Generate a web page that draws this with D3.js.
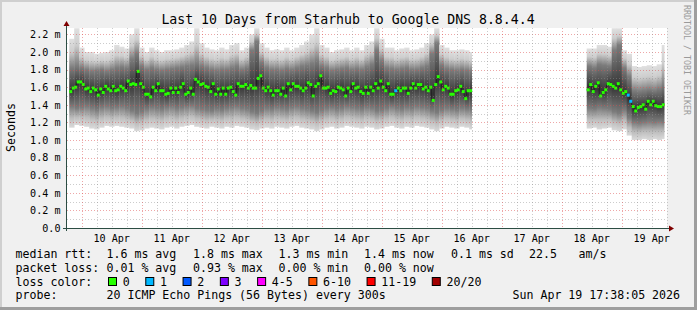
<!DOCTYPE html>
<html>
<head>
<meta charset="utf-8">
<script src="https://cdn.jsdelivr.net/npm/d3@7"></script>
<style>
html, body { margin: 0; padding: 0; background: #f0f0f0; }
svg { display: block; }
text { font-family: 'DejaVu Sans Mono', monospace; fill: #000; white-space: pre; }
</style>
</head>
<body>
<div id="chart"></div>
<script>
var HOUR = 3600000;

// hourly medians (ms), first block of data
var seg1Start = Date.UTC(2026, 3, 9, 19);
var median1 = [
  1.55,1.59,1.60,1.66,1.66,1.63,1.58,1.59,1.55,1.59,
  1.57,1.51,1.58,1.54,1.61,1.58,1.56,1.61,1.56,1.57,
  1.61,1.59,1.56,1.67,1.63,1.64,1.63,1.78,1.64,1.60,
  1.52,1.52,1.49,1.60,1.56,1.64,1.56,1.56,1.52,1.53,
  1.59,1.54,1.59,1.54,1.60,1.64,1.52,1.54,1.59,1.52,
  1.69,1.66,1.63,1.64,1.61,1.60,1.55,1.64,1.52,1.58,
  1.52,1.59,1.52,1.59,1.60,1.55,1.51,1.64,1.61,1.61,
  1.63,1.59,1.62,1.59,1.59,1.70,1.73,1.59,1.56,1.60,
  1.56,1.51,
  1.56,1.56,1.52,1.59,1.50,1.64,1.57,1.64,1.61,1.61,
  1.59,1.56,1.59,1.65,1.63,1.50,1.61,1.64,1.73,1.59,
  1.59,1.60,1.53,1.56,1.55,1.60,1.59,1.57,1.50,1.59,
  1.55,1.64,1.59,1.60,1.55,1.53,1.60,1.53,1.60,1.56,
  1.64,1.59,1.67,1.60,1.56,1.64,1.52,1.52,1.56,1.59,
  1.56,1.59,1.59,1.53,1.59,1.64,1.59,1.63,1.63,1.58,
  1.60,1.56,1.60,1.45,1.63,1.72,1.66,1.57,1.61,1.59,
  1.52,1.52,1.56,1.57,1.61,1.55,1.47,1.56,1.56
];
// [index, pings lost]
var loss1 = [[130, 1]];

// smoke envelope per 2 hours (ms)
var hi1 = [
  2.15,2.27,2.05,2.00,2.00,1.98,1.99,2.00,2.02,2.08,
  2.06,2.04,2.20,2.27,2.05,2.00,2.05,2.02,2.00,2.02,
  2.02,2.03,2.05,2.08,2.12,2.27,2.10,2.05,2.03,2.02,
  2.05,2.03,2.08,2.10,2.02,2.05,2.20,2.27,2.10,2.05,
  2.02,2.03,2.02,2.05,2.02,2.05,2.08,2.12,2.20,2.27,
  2.08,2.05,2.00,2.02,2.03,2.05,2.02,2.05,2.02,2.08,
  2.12,2.27,2.15,2.05,2.05,2.02,2.04,2.05,2.02,2.03,
  2.05,2.10,2.20,2.27,2.08,2.05,2.02,2.02,2.03,2.02,
  2.00
];
var q3_1 = [
  1.82,1.84,1.82,1.80,1.78,1.79,1.80,1.78,1.80,1.82,
  1.83,1.82,1.92,1.98,1.84,1.80,1.82,1.80,1.79,1.80,
  1.81,1.82,1.83,1.84,1.85,1.87,1.84,1.82,1.80,1.79,
  1.80,1.80,1.82,1.84,1.80,1.82,2.02,2.12,1.88,1.82,
  1.80,1.80,1.79,1.81,1.80,1.82,1.84,1.85,1.87,1.90,
  1.84,1.82,1.79,1.80,1.81,1.82,1.80,1.81,1.80,1.83,
  1.86,2.02,1.90,1.82,1.81,1.80,1.81,1.82,1.80,1.80,
  1.82,1.84,1.98,2.10,1.85,1.81,1.80,1.79,1.80,1.79,
  1.78
];
var q1_1 = [
  1.38,1.36,1.37,1.38,1.36,1.34,1.37,1.38,1.36,1.37,
  1.38,1.36,1.33,1.30,1.32,1.35,1.37,1.36,1.35,1.37,
  1.38,1.36,1.37,1.38,1.39,1.36,1.35,1.34,1.33,1.35,
  1.34,1.36,1.37,1.38,1.36,1.35,1.32,1.30,1.33,1.36,
  1.35,1.37,1.36,1.35,1.37,1.38,1.36,1.35,1.33,1.31,
  1.34,1.36,1.37,1.35,1.36,1.38,1.37,1.36,1.35,1.37,
  1.36,1.33,1.34,1.36,1.38,1.36,1.35,1.37,1.36,1.38,
  1.37,1.36,1.33,1.31,1.34,1.36,1.35,1.34,1.36,1.35,
  1.34
];
var lo1 = [
  1.14,1.17,1.16,1.15,1.13,1.12,1.14,1.16,1.15,1.16,
  1.15,1.14,1.13,1.10,1.11,1.13,1.14,1.13,1.12,1.14,
  1.15,1.13,1.15,1.16,1.17,1.15,1.14,1.13,1.15,1.14,
  1.13,1.15,1.14,1.16,1.15,1.14,1.12,1.11,1.13,1.14,
  1.13,1.15,1.14,1.13,1.15,1.16,1.14,1.13,1.12,1.10,
  1.12,1.14,1.15,1.13,1.14,1.16,1.15,1.14,1.13,1.15,
  1.14,1.12,1.13,1.15,1.16,1.14,1.13,1.15,1.14,1.16,
  1.15,1.14,1.12,1.10,1.13,1.15,1.14,1.13,1.15,1.14,
  1.12
];

// second block after the outage
var seg2Start = Date.UTC(2026, 3, 18, 10);
var median2 = [
  1.57,1.63,1.55,1.61,1.65,1.50,1.54,1.57,1.64,1.63,
  1.61,1.59,1.64,1.57,1.53,1.55,1.51,1.44,1.38,1.33,
  1.37,1.38,1.40,1.35,1.44,1.40,1.44,1.39,1.38,1.38,
  1.40
];
var loss2 = [[16, 1], [17, 1]];
var hi2  = [2.04,2.04,2.08,2.08,2.06,2.27,2.27,2.02,1.98,1.84,1.83,1.84,1.85,1.84,1.86,2.08];
var q3_2 = [1.84,1.82,1.86,1.85,1.84,2.02,2.08,1.82,1.72,1.56,1.55,1.56,1.57,1.56,1.58,1.62];
var q1_2 = [1.36,1.35,1.37,1.36,1.35,1.32,1.30,1.34,1.25,1.20,1.19,1.20,1.21,1.20,1.21,1.20];
var lo2  = [1.13,1.14,1.12,1.13,1.14,1.11,1.10,1.12,1.05,1.00,1.00,1.01,1.00,1.01,1.00,1.01];

var lossLabels = ['0', '1', '2', '3', '4-5', '6-10', '11-19', '20/20'];
var lossColors = ['#26ff00', '#00b8ff', '#0059ff', '#7e00ff', '#ff00ff', '#ff5500', '#ff0000', '#a10000'];

var statsRtt  = ['1.6 ms avg', '1.8 ms max', '1.3 ms min', '1.4 ms now', '0.1 ms sd', '22.5', 'am/s'];
var statsLoss = ['0.01 % avg', '0.93 % max', '0.00 % min', '0.00 % now'];

var W = 697, H = 310;
var plot = { left: 67, right: 667, top: 28, bottom: 228 };

var svg = d3.select('#chart').append('svg')
  .attr('width', W)
  .attr('height', H);

// frame like rrdtool
svg.append('rect').attr('width', W).attr('height', H).attr('fill', '#f0f0f0');
svg.append('rect').attr('x', 0).attr('y', 0).attr('width', W).attr('height', 2).attr('fill', '#cfcfcf');
svg.append('rect').attr('x', 0).attr('y', 0).attr('width', 2).attr('height', H).attr('fill', '#cfcfcf');
svg.append('rect').attr('x', 0).attr('y', H - 3).attr('width', W).attr('height', 3).attr('fill', '#9e9e9e');
svg.append('rect').attr('x', W - 3).attr('y', 0).attr('width', 3).attr('height', H).attr('fill', '#9e9e9e');

svg.append('rect')
  .attr('x', plot.left).attr('y', plot.top)
  .attr('width', plot.right - plot.left).attr('height', plot.bottom - plot.top)
  .attr('fill', '#fff');

var x = d3.scaleUtc()
  .domain([Date.UTC(2026, 3, 9, 18, 7, 12), Date.UTC(2026, 3, 19, 18, 7, 12)])
  .range([plot.left, plot.right]);
var y = d3.scaleLinear()
  .domain([0, 200 / 88])
  .range([plot.bottom, plot.top]);

svg.append('clipPath').attr('id', 'clip').append('rect')
  .attr('x', plot.left).attr('y', plot.top)
  .attr('width', plot.right - plot.left).attr('height', plot.bottom - plot.top);

function bins(start, med, hi, q3, q1, lo) {
  var end = start + med.length * HOUR;
  return hi.map(function(h, k) {
    var t0 = start + 2 * k * HOUR;
    return {
      t0: t0, t1: Math.min(t0 + 2 * HOUR, end),
      hi: h, q3: q3[k], q1: q1[k], lo: lo[k],
      med: d3.mean(med.slice(2 * k, 2 * k + 2))
    };
  });
}
function points(start, med, loss) {
  var lost = new Map(loss);
  return med.map(function(v, i) {
    return { t: start + i * HOUR, v: v, loss: lost.get(i) || 0 };
  });
}

var smoke = bins(seg1Start, median1, hi1, q3_1, q1_1, lo1)
  .concat(bins(seg2Start, median2, hi2, q3_2, q1_2, lo2));
var segs = [points(seg1Start, median1, loss1), points(seg2Start, median2, loss2)];

var defs = svg.append('defs');
var g = svg.append('g').attr('clip-path', 'url(#clip)');

smoke.forEach(function(d, i) {
  var top = y(d.hi), bot = y(d.lo), h = bot - top;
  var off = function(v) { return Math.max(0, Math.min(1, (y(v) - top) / h)); };
  var oq3 = off(d.q3), oq1 = off(d.q1);
  var grad = defs.append('linearGradient')
    .attr('id', 'sm' + i)
    .attr('gradientUnits', 'userSpaceOnUse')
    .attr('x1', 0).attr('x2', 0).attr('y1', top).attr('y2', bot);
  // light outer fringe, darker towards the median
  [[0, '#e0e0e0'], [oq3 * 0.45, '#cdcdcd'], [oq3, '#7c7c7c'], [off(d.med), '#363636'],
   [oq1, '#7c7c7c'], [oq1 + (1 - oq1) * 0.55, '#bdbdbd'], [1, '#dadada']]
    .forEach(function(s) { grad.append('stop').attr('offset', s[0]).attr('stop-color', s[1]); });
  g.append('rect')
    .attr('x', x(d.t0))
    .attr('y', top)
    .attr('width', x(d.t1) - x(d.t0) + 0.3)
    .attr('height', h)
    .attr('fill', 'url(#sm' + i + ')');
});

// dark median step line
var line = d3.line()
  .x(function(d) { return x(d.t); })
  .y(function(d) { return y(d.v); })
  .curve(d3.curveStepAfter);
segs.forEach(function(s) {
  var last = s[s.length - 1];
  g.append('path')
    .datum(s.concat([{ t: last.t + HOUR, v: last.v }]))
    .attr('d', line)
    .attr('fill', 'none')
    .attr('stroke', '#202020')
    .attr('stroke-width', 1);
});

// grid on top of the smoke
var grid = svg.append('g');
d3.range(1, 23).forEach(function(i) {
  var yy = Math.round(y(i / 10)) + 0.5;
  grid.append('line')
    .attr('x1', plot.left).attr('x2', plot.right)
    .attr('y1', yy).attr('y2', yy)
    .attr('stroke', i % 2 ? 'rgba(143,143,143,0.46)' : 'rgba(222,80,80,0.5)')
    .attr('stroke-dasharray', '1,2');
});
var hours6 = d3.utcHour.every(6).range(x.domain()[0], x.domain()[1]);
hours6.forEach(function(t) {
  var xx = Math.round(x(t)) + 0.5;
  var major = t.getUTCHours() === 0;
  grid.append('line')
    .attr('x1', xx).attr('x2', xx)
    .attr('y1', plot.top).attr('y2', plot.bottom)
    .attr('stroke', major ? 'rgba(222,80,80,0.5)' : 'rgba(143,143,143,0.46)')
    .attr('stroke-dasharray', '1,2');
});

// loss coloured median marks
segs.forEach(function(s) {
  g.selectAll(null)
    .data(s)
    .enter()
    .append('rect')
    .attr('x', function(d) { return x(d.t); })
    .attr('y', function(d) { return y(d.v) - 1.5; })
    .attr('width', function(d) { return x(d.t + HOUR) - x(d.t) + 0.5; })
    .attr('height', 3)
    .attr('fill', function(d) { return lossColors[d.loss]; });
});

// axes
var axisCol = '#2c4d43';
svg.append('line')
  .attr('x1', plot.left - 4).attr('x2', plot.right + 4)
  .attr('y1', plot.bottom + 0.5).attr('y2', plot.bottom + 0.5)
  .attr('stroke', axisCol);
svg.append('line')
  .attr('x1', plot.left - 0.5).attr('x2', plot.left - 0.5)
  .attr('y1', plot.bottom + 3).attr('y2', plot.top - 4)
  .attr('stroke', axisCol);
svg.append('path')
  .attr('d', 'M' + (plot.right + 2) + ',' + (plot.bottom - 2.5) + 'L' + (plot.right + 7) + ',' + (plot.bottom + 0.5) + 'L' + (plot.right + 2) + ',' + (plot.bottom + 3.5) + 'Z')
  .attr('fill', '#7f0000');
svg.append('path')
  .attr('d', 'M' + (plot.left - 3.5) + ',' + (plot.top - 2) + 'L' + (plot.left - 0.5) + ',' + (plot.top - 7) + 'L' + (plot.left + 2.5) + ',' + (plot.top - 2) + 'Z')
  .attr('fill', '#7f0000');

// y labels
d3.range(0, 12).forEach(function(i) {
  var v = i / 5;
  svg.append('text')
    .attr('x', 60.5)
    .attr('y', y(v) + 3.7)
    .attr('text-anchor', 'end')
    .style('font-size', '10.1px')
    .text(i === 0 ? '0.0' : v.toFixed(1) + ' m');
});

// x labels at noon
var fmt = d3.utcFormat('%d %b');
d3.utcDay.range(x.domain()[0], x.domain()[1]).forEach(function(t) {
  var noon = new Date(+t + 12 * HOUR);
  if (noon > x.domain()[1]) return;
  svg.append('text')
    .attr('x', x(noon))
    .attr('y', 241.5)
    .attr('text-anchor', 'middle')
    .style('font-size', '10.1px')
    .text(fmt(noon));
});

svg.append('text')
  .attr('x', 348).attr('y', 24)
  .attr('text-anchor', 'middle')
  .style('font-size', '13.2px')
  .text('Last 10 Days from Starhub to Google DNS 8.8.4.4');

svg.append('text')
  .attr('transform', 'translate(15,127.5) rotate(-90)')
  .attr('text-anchor', 'middle')
  .style('font-size', '11.6px')
  .text('Seconds');

svg.append('text')
  .attr('transform', 'translate(684,5) rotate(90)')
  .style('font-size', '8.3px')
  .style('fill', '#9a9a9a')
  .text('RRDTOOL / TOBI OETIKER');

// legend
var rows = [258.4, 272, 285.7, 299.3];
var cols = [106.5, 193, 278.5, 364, 451, 529, 578.5];
function legendText(xx, yy, s) {
  svg.append('text').attr('x', xx).attr('y', yy).style('font-size', '11.6px').text(s);
}
legendText(15.5, rows[0], 'median rtt:');
statsRtt.forEach(function(s, i) { legendText(cols[i], rows[0], s); });
legendText(15.5, rows[1], 'packet loss:');
statsLoss.forEach(function(s, i) { legendText(cols[i], rows[1], s); });
legendText(15.5, rows[2], 'loss color:');
var bx = 108.5;
lossLabels.forEach(function(s, i) {
  svg.append('rect')
    .attr('x', bx).attr('y', 277.5)
    .attr('width', 8).attr('height', 8)
    .attr('fill', lossColors[i])
    .attr('stroke', '#000');
  legendText(bx + 14.2, rows[2], s);
  bx += 30.3 + s.length * 6.98;
});
legendText(15.5, rows[3], 'probe:');
legendText(106.5, rows[3], '20 ICMP Echo Pings (56 Bytes) every 300s');
legendText(512.5, rows[3], 'Sun Apr 19 17:38:05 2026');
</script>
</body>
</html>
